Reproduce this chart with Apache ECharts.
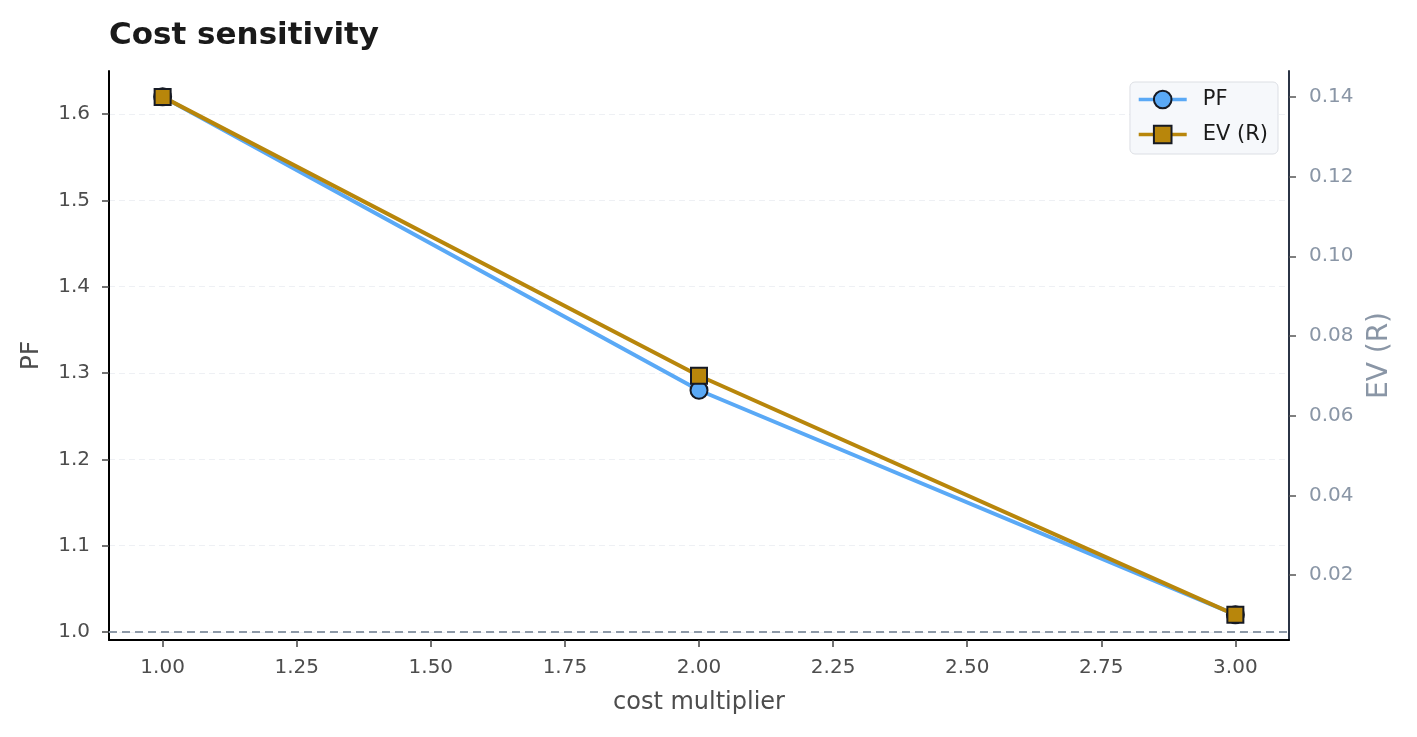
<!DOCTYPE html>
<html>
<head>
<meta charset="utf-8">
<script src="https://cdn.jsdelivr.net/npm/echarts@6/dist/echarts.min.js"></script>
<style>
  html, body { margin: 0; padding: 0; background: #fff; }
  #main { width: 1417px; height: 737px; }
</style>
</head>
<body>
<div id="main"></div>
<script>
var costMult = [1.0, 2.0, 3.0];
var pfValues = [1.62, 1.28, 1.02];
var evValues = [0.14, 0.07, 0.01];
var xTicks = [1.0, 1.25, 1.5, 1.75, 2.0, 2.25, 2.5, 2.75, 3.0];
var pfTicks = [1.0, 1.1, 1.2, 1.3, 1.4, 1.5, 1.6];
var evTicks = [0.02, 0.04, 0.06, 0.08, 0.10, 0.12, 0.14];
var pfBaseline = 1.0;

var font = 'DejaVu Sans';
var chart = echarts.init(document.getElementById('main'));

function pairs(xs, ys) {
    return xs.map(function (x, i) { return [x, ys[i]]; });
}

var option = {
    animation: false,
    textStyle: { fontFamily: font },
    title: {
        text: 'Cost sensitivity',
        left: 104,
        top: 15,
        textStyle: { fontSize: 31, fontWeight: 'bold', color: '#1a1a1a', fontFamily: font }
    },
    legend: {
        orient: 'vertical',
        right: 139,
        top: 82,
        backgroundColor: '#f6f8fb',
        borderColor: '#dcdfe4',
        borderWidth: 1,
        borderRadius: 5,
        padding: [7, 10, 9, 7],
        itemGap: 14,
        itemWidth: 48,
        itemHeight: 22,
        lineStyle: { width: 3.5 },
        textStyle: { fontSize: 21, color: '#1a1a1a', fontFamily: font, padding: [0, 0, 0, 11] },
        data: ['PF', 'EV (R)']
    },
    grid: { left: 109, right: 128, top: 71, bottom: 97 },
    xAxis: {
        type: 'value',
        min: 0.9,
        max: 3.1,
        name: 'cost multiplier',
        nameLocation: 'middle',
        nameGap: 51,
        nameTextStyle: { fontSize: 24, color: '#4d4d4d' },
        axisLine: { lineStyle: { color: '#000', width: 2 } },
        axisTick: { show: true, length: 7, customValues: xTicks, lineStyle: { color: '#444', width: 1.5 } },
        axisLabel: {
            customValues: xTicks, fontSize: 20, color: '#4d4d4d', margin: 18,
            formatter: function (v) { return v.toFixed(2); }
        },
        splitLine: { show: false }
    },
    yAxis: [{
        type: 'value',
        min: 0.9907,
        max: 1.6498,
        name: 'PF',
        nameLocation: 'middle',
        nameGap: 65,
        nameTextStyle: { fontSize: 25, color: '#4d4d4d' },
        axisLine: { show: true, lineStyle: { color: '#000', width: 2 } },
        axisTick: { show: true, length: 7, customValues: pfTicks, lineStyle: { color: '#444', width: 1.5 } },
        axisLabel: {
            customValues: pfTicks, fontSize: 20, color: '#4d4d4d', margin: 19,
            formatter: function (v) { return v.toFixed(1); }
        },
        splitLine: { show: true, lineStyle: { color: '#eef0f4', type: [6, 4], width: 1 } }
    }, {
        type: 'value',
        min: 0.00368,
        max: 0.1465,
        position: 'right',
        name: 'EV (R)',
        nameLocation: 'middle',
        nameGap: 77,
        nameTextStyle: { fontSize: 28, color: '#8a96a6' },
        axisLine: { show: true, lineStyle: { color: '#2b3445', width: 2 } },
        axisTick: { show: true, length: 7, customValues: evTicks, lineStyle: { color: '#555', width: 1.5 } },
        axisLabel: {
            customValues: evTicks, fontSize: 20, color: '#8a96a6', margin: 20,
            formatter: function (v) { return v.toFixed(2); }
        },
        splitLine: { show: false }
    }],
    series: [{
        name: 'PF',
        type: 'line',
        yAxisIndex: 0,
        data: pairs(costMult, pfValues),
        symbol: 'circle',
        symbolSize: 17,
        lineStyle: { color: '#5aa9f6', width: 4 },
        itemStyle: { color: '#5aa9f6', borderColor: '#161a24', borderWidth: 2 },
        z: 2,
        markLine: {
            silent: true,
            symbol: 'none',
            label: { show: false },
            lineStyle: { color: '#8e9aa8', type: [8, 5], width: 2 },
            data: [{ yAxis: pfBaseline }]
        }
    }, {
        name: 'EV (R)',
        type: 'line',
        yAxisIndex: 1,
        data: pairs(costMult, evValues),
        symbol: 'rect',
        symbolSize: 16,
        lineStyle: { color: '#b8860b', width: 4 },
        itemStyle: { color: '#b8860b', borderColor: '#161a24', borderWidth: 2 },
        z: 3
    }]
};
chart.setOption(option);
</script>
</body>
</html>
